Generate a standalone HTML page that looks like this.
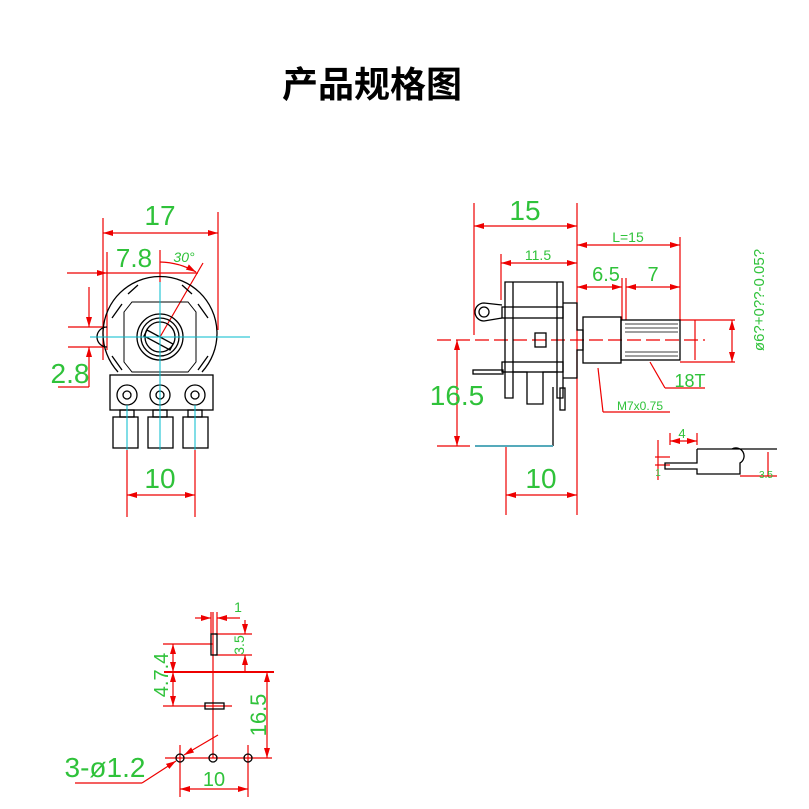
<!DOCTYPE html>
<html><head><meta charset="utf-8"><style>
body{margin:0;background:#fff;width:809px;height:809px;overflow:hidden}
svg{display:block}
.t{font-family:"Liberation Sans","Noto Sans CJK SC",sans-serif;fill:#2fc23a}
</style></head><body>
<svg width="809" height="809" viewBox="0 0 809 809" xmlns="http://www.w3.org/2000/svg">
<defs>
<marker id="a" viewBox="0 0 10 6" refX="10" refY="3" markerWidth="10" markerHeight="6" orient="auto-start-reverse" markerUnits="userSpaceOnUse"><path d="M0,0L10,3L0,6z" fill="#e00"/></marker>
</defs>
<text x="372" y="97" text-anchor="middle" font-family="'Noto Sans CJK SC',sans-serif" font-weight="bold" font-size="36" fill="#000">产品规格图</text>

<!-- LEFT FRONT VIEW -->
<g stroke="#e00" stroke-width="1.2" fill="none">
<line x1="103" y1="218" x2="103" y2="360"/><line x1="218" y1="212" x2="218" y2="330"/>
<line x1="103" y1="233" x2="218" y2="233" marker-start="url(#a)" marker-end="url(#a)"/>
<line x1="107" y1="252" x2="107" y2="350"/>
<line x1="67" y1="273" x2="107" y2="273" marker-end="url(#a)"/>
<line x1="107" y1="273" x2="198" y2="273"/>
<line x1="160" y1="250" x2="160" y2="282"/>
<line x1="160" y1="337" x2="203" y2="263"/>
<path d="M160,262 A75,75 0 0 1 196,272" marker-end="url(#a)"/>
<line x1="68" y1="327" x2="105" y2="327"/><line x1="68" y1="347" x2="105" y2="347"/>
<line x1="89" y1="287" x2="89" y2="327" marker-end="url(#a)"/>
<line x1="89" y1="387" x2="89" y2="347" marker-end="url(#a)"/>
<line x1="58" y1="387" x2="89" y2="387"/>
<line x1="127" y1="450" x2="127" y2="517"/><line x1="195" y1="450" x2="195" y2="517"/>
<line x1="127" y1="495" x2="195" y2="495" marker-start="url(#a)" marker-end="url(#a)"/>
</g>
<g stroke="#000" stroke-width="1.3" fill="none">
<path d="M118,372 A57,57 0 1 1 202,372"/>
<path d="M107,327 A5,5 0 0 0 107,347"/>
<circle cx="160" cy="337" r="23"/><circle cx="160" cy="337" r="19"/>
<circle cx="160" cy="337" r="15"/>
<path d="M124,312 L132,302 L188,302 L196,312 L196,362 L188,372 L132,372 L124,362Z" stroke-width="1"/>
<path d="M112,318 L122,304 M112,356 L122,370 M208,318 L198,304 M208,356 L198,370 M128,294 L138,285 M192,294 L182,285"/>
<rect x="110" y="375" width="103" height="35"/>
<rect x="113" y="417" width="25" height="31"/><rect x="148" y="417" width="25" height="31"/><rect x="183" y="417" width="25" height="31"/>
<rect x="120" y="410" width="14" height="7"/><rect x="153" y="410" width="14" height="7"/><rect x="188" y="410" width="14" height="7"/>
<circle cx="127" cy="395" r="10"/><circle cx="160" cy="395" r="10"/><circle cx="195" cy="395" r="10"/>
<circle cx="127" cy="395" r="4"/><circle cx="160" cy="395" r="4"/><circle cx="195" cy="395" r="4"/>
<path d="M147,330 L173,344 L170,350 L144,336Z"/>
</g>
<g stroke="#0bc" stroke-width="1" fill="none">
<line x1="90" y1="337" x2="250" y2="337"/><line x1="160" y1="282" x2="160" y2="420"/>
<line x1="127" y1="405" x2="127" y2="450"/><line x1="160" y1="405" x2="160" y2="450"/><line x1="195" y1="405" x2="195" y2="450"/>
</g>
<text class="t" x="160" y="225" font-size="28" text-anchor="middle">17</text>
<text class="t" x="134" y="267" font-size="26" text-anchor="middle">7.8</text>
<text class="t" x="184" y="262" font-size="14" font-style="italic" text-anchor="middle">30°</text>
<text class="t" x="70" y="383" font-size="28" text-anchor="middle">2.8</text>
<text class="t" x="160" y="488" font-size="28" text-anchor="middle">10</text>

<!-- RIGHT SIDE VIEW -->
<g stroke="#e00" stroke-width="1.2" fill="none">
<line x1="474" y1="203" x2="474" y2="335"/><line x1="577" y1="203" x2="577" y2="515"/>
<line x1="474" y1="226" x2="577" y2="226" marker-start="url(#a)" marker-end="url(#a)"/>
<line x1="680" y1="237" x2="680" y2="320"/>
<line x1="577" y1="245" x2="680" y2="245" marker-start="url(#a)" marker-end="url(#a)"/>
<line x1="501" y1="254" x2="501" y2="300"/>
<line x1="501" y1="263" x2="577" y2="263" marker-start="url(#a)" marker-end="url(#a)"/>
<line x1="622" y1="278" x2="622" y2="320"/><line x1="626" y1="278" x2="626" y2="320"/>
<line x1="577" y1="287" x2="622" y2="287" marker-start="url(#a)" marker-end="url(#a)"/>
<line x1="626" y1="287" x2="680" y2="287" marker-start="url(#a)" marker-end="url(#a)"/>
<line x1="437" y1="340" x2="705" y2="340" stroke-dasharray="14,5"/>
<line x1="457" y1="340" x2="457" y2="446" marker-start="url(#a)" marker-end="url(#a)"/>
<line x1="437" y1="446" x2="470" y2="446"/>
<line x1="506" y1="446" x2="506" y2="515"/>
<line x1="506" y1="495" x2="577" y2="495" marker-start="url(#a)" marker-end="url(#a)"/>
<line x1="680" y1="320" x2="735" y2="320"/><line x1="680" y1="362" x2="735" y2="362"/>
<line x1="732" y1="320" x2="732" y2="362" marker-start="url(#a)" marker-end="url(#a)"/>
<line x1="695" y1="320" x2="695" y2="360"/>
<line x1="650" y1="362" x2="665" y2="388"/><line x1="665" y1="388" x2="705" y2="388"/>
<line x1="598" y1="368" x2="603" y2="412"/><line x1="603" y1="412" x2="670" y2="412"/>
<line x1="670" y1="433" x2="670" y2="445"/><line x1="697" y1="433" x2="697" y2="445"/>
<line x1="670" y1="441" x2="697" y2="441" marker-start="url(#a)" marker-end="url(#a)"/>
<line x1="655" y1="457" x2="670" y2="457"/><line x1="655" y1="465" x2="670" y2="465"/>
<line x1="658" y1="440" x2="658" y2="480"/>
<line x1="740" y1="476" x2="777" y2="476"/><line x1="768" y1="452" x2="768" y2="476"/>
</g>
<g stroke="#000" stroke-width="1.3" fill="none">
<path d="M505,282 L563,282 L563,398 L557,398 L557,372 L543,372 L543,404 L527,404 L527,372 L513,372 L513,398 L505,398Z"/>
<line x1="513" y1="282" x2="513" y2="372"/><line x1="557" y1="282" x2="557" y2="372"/>
<rect x="502" y="307" width="61" height="11"/><rect x="502" y="362" width="61" height="10"/>
<rect x="535" y="333" width="11" height="14"/>
<path d="M502,305 L484,303 A9,9 0 0 0 484,321 L502,318"/>
<circle cx="484" cy="312" r="5"/>
<rect x="473" y="370" width="30" height="4"/>
<path d="M563,303 L577,303 L577,330 L583,330 L583,350 L577,350 L577,378 L563,378"/>
<line x1="553" y1="387" x2="553" y2="446"/>
<rect x="560" y="388" width="5" height="22"/>
<rect x="583" y="317" width="38" height="46"/>
<rect x="621" y="320" width="59" height="40"/>
<path d="M625,324 H678 M625,328 H678 M625,332 H678 M625,352 H678 M625,356 H678" stroke-width="0.8"/>
<path d="M697,449 H777 M697,449 V463 H665 V469 H697 V474 H740 V463 A8,8 0 0 0 732,449"/>
</g>
<line x1="475" y1="446" x2="553" y2="446" stroke="#5ab" stroke-width="2"/>
<text class="t" x="525" y="220" font-size="28" text-anchor="middle">15</text>
<text class="t" x="628" y="242" font-size="14" text-anchor="middle">L=15</text>
<text class="t" x="538" y="260" font-size="14" text-anchor="middle">11.5</text>
<text class="t" x="606" y="281" font-size="20" text-anchor="middle">6.5</text>
<text class="t" x="653" y="281" font-size="20" text-anchor="middle">7</text>
<text class="t" x="457" y="405" font-size="28" text-anchor="middle">16.5</text>
<text class="t" x="541" y="488" font-size="28" text-anchor="middle">10</text>
<text class="t" x="690" y="387" font-size="18" text-anchor="middle">18T</text>
<text class="t" x="640" y="410" font-size="12" text-anchor="middle">M7x0.75</text>
<text class="t" x="682" y="438" font-size="13" text-anchor="middle">4</text>
<text class="t" x="766" y="478" font-size="10" text-anchor="middle">3.5</text>
<text class="t" x="658" y="476" font-size="10" text-anchor="middle">1</text>
<text class="t" transform="translate(764,300) rotate(-90)" font-size="15" text-anchor="middle">ø6?+0??-0.05?</text>

<!-- BOTTOM VIEW -->
<g stroke="#e00" stroke-width="1.2" fill="none">
<line x1="211" y1="612" x2="211" y2="634"/><line x1="217" y1="612" x2="217" y2="634"/>
<line x1="195" y1="618" x2="211" y2="618" marker-end="url(#a)"/>
<line x1="240" y1="618" x2="217" y2="618" marker-end="url(#a)"/>
<line x1="213" y1="612" x2="213" y2="758"/>
<line x1="215" y1="634" x2="252" y2="634"/><line x1="215" y1="655" x2="252" y2="655"/>
<line x1="245" y1="620" x2="245" y2="634" marker-end="url(#a)"/><line x1="245" y1="672" x2="245" y2="655" marker-end="url(#a)"/>
<line x1="164" y1="672" x2="274" y2="672" stroke-width="2"/>
<line x1="163" y1="644" x2="213" y2="644"/><line x1="163" y1="706" x2="232" y2="706"/>
<line x1="173" y1="644" x2="173" y2="672" marker-start="url(#a)" marker-end="url(#a)"/>
<line x1="173" y1="672" x2="173" y2="706" marker-start="url(#a)" marker-end="url(#a)"/>
<line x1="165" y1="758" x2="272" y2="758"/>
<line x1="267" y1="672" x2="267" y2="758" marker-start="url(#a)" marker-end="url(#a)"/>
<line x1="180" y1="745" x2="180" y2="797"/><line x1="248" y1="745" x2="248" y2="797"/>
<line x1="180" y1="789" x2="248" y2="789" marker-start="url(#a)" marker-end="url(#a)"/>
<line x1="75" y1="783" x2="142" y2="783"/><line x1="142" y1="783" x2="176" y2="761" marker-end="url(#a)"/>
<line x1="218" y1="735" x2="184" y2="755" marker-end="url(#a)"/>
</g>
<g stroke="#000" stroke-width="1.3" fill="none">
<rect x="211" y="634" width="6" height="21"/>
<rect x="205" y="703" width="19" height="6"/>
<circle cx="180" cy="758" r="4"/><circle cx="213" cy="758" r="4"/><circle cx="248" cy="758" r="4"/>
</g>
<text class="t" x="238" y="612" font-size="14" text-anchor="middle">1</text>
<text class="t" transform="translate(244,645) rotate(-90)" font-size="14" text-anchor="middle">3.5</text>
<text class="t" transform="translate(168,675) rotate(-90)" font-size="20" text-anchor="middle">4.7.4</text>
<text class="t" transform="translate(266,715) rotate(-90)" font-size="22" text-anchor="middle">16.5</text>
<text class="t" x="214" y="786" font-size="20" text-anchor="middle">10</text>
<text class="t" x="105" y="777" font-size="28" text-anchor="middle">3-ø1.2</text>
</svg>
</body></html>
